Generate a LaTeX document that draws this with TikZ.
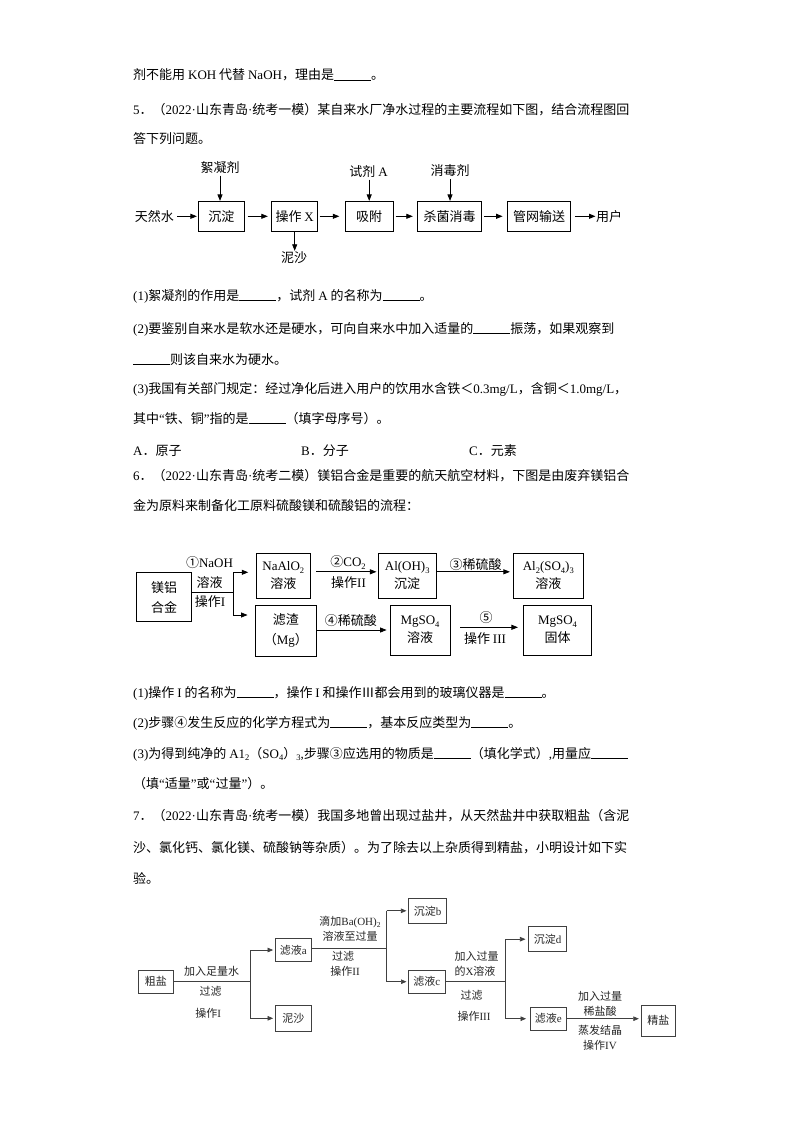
\documentclass[tikz,border=0pt]{standalone}
\usepackage{fontspec}
\setmainfont{Noto Sans CJK SC}
\newfontfamily\tm{Liberation Serif}
\usetikzlibrary{arrows.meta}
\newcommand\bl{\rule[-0.8pt]{37pt}{0.6pt}}
\newcommand\dn[1]{\raisebox{-0.4ex}{\fontsize{8.5}{8.5}\selectfont\tm #1}}
\newcommand\dnn[1]{\raisebox{-0.4ex}{\fontsize{7.5}{7.5}\selectfont\tm #1}}
\newcommand\qL{{\tm “}}
\newcommand\qR{{\tm ”}}
\begin{document}
\begin{tikzpicture}[x=1pt,y=-1pt,
  tx/.style={anchor=base west, inner sep=0, font=\fontsize{13}{13}\selectfont},
  lb/.style={inner sep=0, font=\fontsize{13}{13}\selectfont},
  lb3/.style={inner sep=0, font=\fontsize{11}{11}\selectfont, text=black!85},
  bx1/.style={draw, line width=0.8pt, minimum height=30pt, inner sep=0, font=\fontsize{13}{13}\selectfont},
  bx2/.style={draw, line width=0.8pt, inner sep=0, align=center, font=\fontsize{13}{18}\selectfont},
  bx3/.style={draw=black!75, line width=0.7pt, inner sep=0, text=black!85, font=\fontsize{11}{11}\selectfont},
  ln/.style={line width=0.8pt},
  ln3/.style={line width=0.7pt, draw=black!75},
  ar/.style={-{Triangle[length=6.5pt,width=5pt]}, line width=0.8pt},
  ar3/.style={-{Triangle[length=5.5pt,width=4.5pt]}, line width=0.7pt, draw=black!75, fill=black!75}]
\fill[white] (0,0) rectangle (794,1123);
\useasboundingbox (0,0) rectangle (794,1123);

% ---------- text before diagram 1
\node[tx] (t1) at (133,80) {剂不能用 {\tm KOH} 代替 {\tm NaOH}，理由是\bl。};
\node[tx] (t2) at (133,115) {{\tm 5}．（{\tm 2022·}山东青岛{\tm ·}统考一模）某自来水厂净水过程的主要流程如下图，结合流程图回};
\node[tx] (t3) at (133,144) {答下列问题。};

% ---------- diagram 1
\node[bx1, minimum width=46pt] (cd) at (221.3,216.3) {沉淀};
\node[bx1, minimum width=46pt] (czx) at (294.7,216.3) {操作 {\tm X}};
\node[bx1, minimum width=48pt] (xf) at (369.2,216.3) {吸附};
\node[bx1, minimum width=64pt] (sj) at (449.7,216.3) {杀菌消毒};
\node[bx1, minimum width=63pt] (gw) at (539,216.3) {管网输送};
\node[lb, anchor=east] (trs) at (174,216.3) {天然水};
\node[lb, anchor=west] (yh) at (596,216.3) {用户};
\node[lb] (xnj) at (220,167.5) {絮凝剂};
\node[lb] (sja) at (368.5,171.5) {试剂 {\tm A}};
\node[lb] (xdj) at (450,171) {消毒剂};
\node[lb] (ns1) at (294,258) {泥沙};
\draw[ar, shorten <=3pt, shorten >=1pt] (trs.east) -- (cd.west);
\draw[ar, shorten <=3pt, shorten >=3.5pt] (cd.east) -- (czx.west);
\draw[ar, shorten <=1.5pt, shorten >=5.5pt] (czx.east) -- (xf.west);
\draw[ar, shorten <=2pt, shorten >=4.5pt] (xf.east) -- (sj.west);
\draw[ar, shorten <=2pt, shorten >=4.5pt] (sj.east) -- (gw.west);
\draw[ar, shorten <=4pt, shorten >=0.5pt] (gw.east) -- (yh.west);
\draw[ar, shorten <=2pt] (xnj.south) -- (xnj.south |- cd.north);
\draw[ar, shorten <=2pt] (sja.south -| xf.north) -- (xf.north);
\draw[ar, shorten <=2pt] (xdj.south) -- (xdj.south |- sj.north);
\draw[ar, shorten >=1pt] (czx.south) -- (czx.south |- ns1.north);

% ---------- questions 5
\node[tx] (t4) at (133,300) {{\tm (1)}絮凝剂的作用是\bl，试剂 {\tm A} 的名称为\bl。};
\node[tx] (t5) at (133,333) {{\tm (2)}要鉴别自来水是软水还是硬水，可向自来水中加入适量的\bl 振荡，如果观察到};
\node[tx] (t6) at (133,364) {\bl 则该自来水为硬水。};
\node[tx] (t7) at (133,393) {{\tm (3)}我国有关部门规定：经过净化后进入用户的饮用水含铁＜{\tm 0.3mg/L}，含铜＜{\tm 1.0mg/L}，};
\node[tx] (t8) at (133,423) {其中\qL 铁、铜\qR 指的是\bl（填字母序号）。};
\node[tx] (t9a) at (133,455) {{\tm A}．原子};
\node[tx] (t9b) at (301,455) {{\tm B}．分子};
\node[tx] (t9c) at (469,455) {{\tm C}．元素};
\node[tx] (t10) at (133,480) {{\tm 6}．（{\tm 2022·}山东青岛{\tm ·}统考二模）镁铝合金是重要的航天航空材料，下图是由废弃镁铝合};
\node[tx] (t11) at (133,510) {金为原料来制备化工原料硫酸镁和硫酸铝的流程：};

% ---------- diagram 2
\node[bx2, minimum width=55pt, minimum height=49pt, font=\fontsize{13}{20}\selectfont] (hj) at (164.2,597.2) {镁铝\\合金};
\node[bx2, minimum width=53.3pt, minimum height=45pt] (na) at (283.3,575.8) {{\tm NaAlO}\dn{2}\\溶液};
\node[bx2, minimum width=57.7pt, minimum height=45pt] (al) at (407.2,575.8) {{\tm Al(OH)}\dn{3}\\沉淀};
\node[bx2, minimum width=70pt, minimum height=45pt] (als) at (548.3,575.8) {{\tm Al}\dn{2}{\tm (SO}\dn{4}{\tm )}\dn{3}\\溶液};
\node[bx2, minimum width=61.7pt, minimum height=51.7pt, font=\fontsize{13}{20}\selectfont] (lz) at (285.8,630.8) {滤渣\\（{\tm Mg}）};
\node[bx2, minimum width=60pt, minimum height=50pt] (mg1) at (420,630) {{\tm MgSO}\dn{4}\\溶液};
\node[bx2, minimum width=68.3pt, minimum height=50pt] (mg2) at (557.5,630) {{\tm MgSO}\dn{4}\\固体};
\coordinate (j1) at (233.3,592.3);
\coordinate (j1t) at (233.3,572.3);
\coordinate (j1b) at (233.3,615);
\draw[ln] (j1 -| hj.east) -- (j1);
\draw[ln] (j1t) -- (j1b);
\draw[ar, shorten >=8pt] (j1t) -- (j1t -| na.west);
\draw[ar, shorten >=7pt] (j1b) -- (j1b -| lz.west);
\draw[ar, shorten <=6pt, shorten >=1.5pt] ([yshift=4pt]na.east) -- ([yshift=4pt]al.west);
\draw[ar, shorten <=0.5pt, shorten >=3pt] ([yshift=4pt]al.east) -- ([yshift=4pt]als.west);
\draw[ar, shorten >=3pt] (lz.east |- mg1.west) -- (mg1.west);
\draw[ar, shorten <=10pt, shorten >=5pt] ([yshift=2.7pt]mg1.east) -- ([yshift=2.7pt]mg2.west);
\node[lb] (l1) at (209.5,562.5) {①{\tm NaOH}};
\node[lb] (l2) at (209.7,583) {溶液};
\node[lb] (l3) at (210,601.5) {操作{\tm I}};
\node[lb] (l4) at (348,562.5) {②{\tm CO}\dn{2}};
\node[lb] (l5) at (348.5,583) {操作{\tm II}};
\node[lb] (l6) at (475.5,565) {③稀硫酸};
\node[lb] (l7) at (350.8,621) {④稀硫酸};
\node[lb] (l8) at (486,617.5) {⑤};
\node[lb] (l9) at (485,639) {操作 {\tm III}};

% ---------- questions 6, 7
\node[tx] (t12) at (133,697) {{\tm (1)}操作 {\tm I} 的名称为\bl，操作 {\tm I} 和操作Ⅲ都会用到的玻璃仪器是\bl。};
\node[tx] (t13) at (133,727) {{\tm (2)}步骤④发生反应的化学方程式为\bl，基本反应类型为\bl。};
\node[tx] (t14) at (133,758) {{\tm (3)}为得到纯净的 {\tm A1}\dn{2}（{\tm SO}\dn{4}）\dn{3}{\tm ,}步骤③应选用的物质是\bl（填化学式）{\tm ,}用量应\bl};
\node[tx] (t15) at (133,788) {（填\qL 适量\qR 或\qL 过量\qR ）。};
\node[tx] (t16) at (133,820) {{\tm 7}．（{\tm 2022·}山东青岛{\tm ·}统考一模）我国多地曾出现过盐井，从天然盐井中获取粗盐（含泥};
\node[tx] (t17) at (133,852) {沙、氯化钙、氯化镁、硫酸钠等杂质）。为了除去以上杂质得到精盐，小明设计如下实};
\node[tx] (t18) at (133,883) {验。};

% ---------- diagram 3
\node[bx3, minimum width=35pt, minimum height=23.3pt] (cy) at (155.8,981.7) {粗盐};
\node[bx3, minimum width=36.7pt, minimum height=23.4pt] (lya) at (293.3,950) {滤液{\tm a}};
\node[bx3, minimum width=36.7pt, minimum height=26.7pt] (ns2) at (293.3,1018.3) {泥沙};
\node[bx3, minimum width=38.4pt, minimum height=25pt] (cdb) at (427.5,910.8) {沉淀{\tm b}};
\node[bx3, minimum width=36.7pt, minimum height=23.3pt] (lyc) at (426.7,981.7) {滤液{\tm c}};
\node[bx3, minimum width=38.4pt, minimum height=25pt] (cdd) at (547.5,939.2) {沉淀{\tm d}};
\node[bx3, minimum width=36.7pt, minimum height=22.7pt] (lye) at (548.3,1018.7) {滤液{\tm e}};
\node[bx3, minimum width=33.3pt, minimum height=31.7pt] (js) at (658.3,1020.8) {精盐};
\coordinate (ja) at (250,981.7);
\coordinate (jb) at (386.7,948);
\coordinate (jc) at (505,981.7);
\draw[ln3] (cy.east) -- (ja);
\draw[ln3] (ja |- lya) -- (ja |- ns2);
\draw[ar3, shorten >=1.5pt] (ja |- lya) -- (lya.west);
\draw[ar3, shorten >=1.5pt] (ja |- ns2) -- (ns2.west);
\draw[ln3] (lya.east |- jb) -- (jb);
\draw[ln3] (jb |- cdb) -- (jb |- lyc);
\draw[ar3, shorten >=1.5pt] (jb |- cdb) -- (cdb.west);
\draw[ar3, shorten >=1.5pt] (jb |- lyc) -- (lyc.west);
\draw[ln3] (lyc.east) -- (jc);
\draw[ln3] (jc |- cdd) -- (jc |- lye);
\draw[ar3, shorten >=2.5pt] (jc |- cdd) -- (cdd.west);
\draw[ar3, shorten >=3.5pt] (jc |- lye) -- (lye.west);
\draw[ar3, shorten >=2.5pt] (lye.east) -- (lye.east -| js.west);
\node[lb3] (m1) at (211.7,971.7) {加入足量水};
\node[lb3] (m2) at (210.7,991.7) {过滤};
\node[lb3] (m3) at (208.3,1013) {操作{\tm I}};
\node[lb3] (m4) at (350,921.7) {滴加{\tm Ba(OH)}\dnn{2}};
\node[lb3] (m5) at (350,936.7) {溶液至过量};
\node[lb3] (m6) at (343,956.7) {过滤};
\node[lb3] (m7) at (345,971.7) {操作{\tm II}};
\node[lb3] (m8) at (476.7,956.7) {加入过量};
\node[lb3] (m9) at (475,971.7) {的{\tm X}溶液};
\node[lb3] (m10) at (471.7,995) {过滤};
\node[lb3] (m11) at (474,1016.7) {操作{\tm III}};
\node[lb3] (m12) at (600,996) {加入过量};
\node[lb3] (m13) at (600,1011.7) {稀盐酸};
\node[lb3] (m14) at (600,1030) {蒸发结晶};
\node[lb3] (m15) at (600,1045) {操作{\tm IV}};
\end{tikzpicture}
\end{document}
